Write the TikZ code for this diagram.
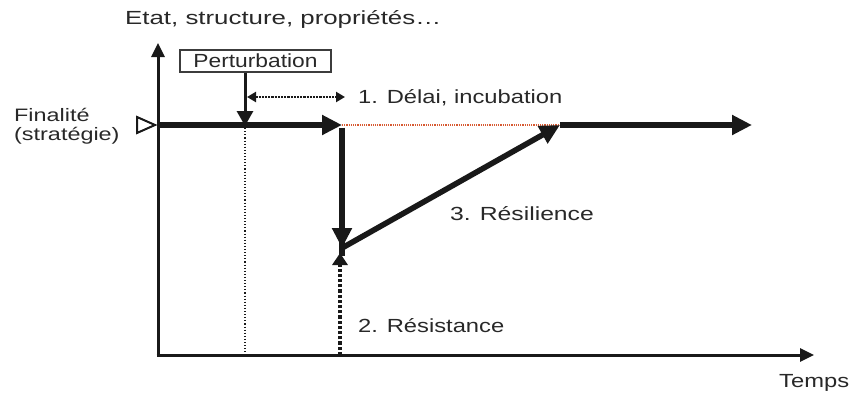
\documentclass[tikz,border=0pt]{standalone}
\usepackage{fontspec}
\setmainfont{Liberation Sans}
\usetikzlibrary{arrows.meta}
\newcommand\widetxt[2][1.25]{\scalebox{#1}[1]{#2}}
\definecolor{ink}{RGB}{25,25,25}
\definecolor{txt}{RGB}{40,40,40}
\begin{document}
\begin{tikzpicture}[x=1pt,y=-1pt,
  lbl/.style={inner sep=0pt, text=txt, font=\fontsize{19}{17}\selectfont},
  axis/.style={draw=ink, line width=3pt, -{Triangle[length=14pt,width=13pt]}},
  bigarrow/.style={draw=ink, line width=5.6pt, -{Triangle[length=20pt,width=19pt]}},
  plainthick/.style={draw=ink, line width=6pt},
  thindot/.style={draw=ink, line width=1.1pt, dotted},
  reddot/.style={draw={rgb,255:red,215;green,90;blue,50}, line width=1.2pt, densely dotted},
  dotarrow/.style={draw=ink, line width=2.2pt, densely dotted, {Triangle[length=9pt,width=10pt]}-{Triangle[length=9pt,width=10pt]}},
  resarrow/.style={draw=ink, line width=3.2pt, dotted, -{Triangle[length=12pt,width=15pt]}},
  pertarrow/.style={draw=ink, line width=3pt, -{Triangle[length=15pt,width=16pt]}},
  boxstyle/.style={draw=ink!85, line width=1.2pt, inner sep=0pt, minimum width=151pt, minimum height=22pt, text=txt, font=\fontsize{19}{17}\selectfont}
]
\useasboundingbox (0,0) rectangle (858,397);

% coordinates
\coordinate (O) at (158,355);
\coordinate (Ytop) at (158,43);
\coordinate (Xend) at (814,355);
\coordinate (F0) at (158,125);
\coordinate (D) at (342,125);
\coordinate (Dlow) at (342,248);
\coordinate (R) at (560,125);
\coordinate (E) at (752,125);
\coordinate (P) at (245,125);
\coordinate (Pbot) at (245,355);
\coordinate (Rs0) at (340,355);
\coordinate (Rs1) at (340,253);
\coordinate (L0) at (247,97);
\coordinate (L1) at (345,97);

% axes
\draw[axis] (O) -- (Ytop);
\draw[axis] ([xshift=-1.5pt]O) -- (Xend);

% texts
\node[lbl, anchor=west] (etat) at (125,19) {\widetxt[1.36]{Etat, structure, propriétés…}};
\node[lbl, anchor=west, align=left, font=\fontsize{18}{19.5}\selectfont] (fin) at (14,126) {\widetxt[1.3]{Finalité}\\\widetxt[1.3]{(stratégie)}};
\node[lbl, anchor=west] (delai) at (358,98) {\widetxt{1. Délai, incubation}};
\node[lbl] (resil) at (522,214) {\widetxt[1.3]{3. Résilience}};
\node[lbl, anchor=west] (resist) at (358,326) {\widetxt{2. Résistance}};
\node[lbl, anchor=west] (temps) at (779,383) {\widetxt{Temps}};

% perturbation
\node[boxstyle] (pert) at (255.5,61) {\widetxt[1.2]{Perturbation}};
\draw[pertarrow] (pert.south -| P) -- ([yshift=-1pt]P);

% open triangle
\draw[draw=ink, line width=2pt, line join=miter] (137,117) -- (155,125) -- (137,133) -- cycle;

% dotted vertical at perturbation
\draw[thindot] (P) -- (Pbot);

% delay arrow
\draw[dotarrow] (L0) -- (L1);

% red dotted baseline
\draw[reddot] (D) -- (R);

% main trajectory
\draw[bigarrow] (F0) -- (D);
\draw[plainthick] ([yshift=-2.8pt]D) -- ([yshift=-8pt]Dlow);
\draw[bigarrow] ([yshift=-2.8pt]D) -- (Dlow);
\draw[bigarrow] (Dlow) -- (R);
\draw[bigarrow] (R) -- (E);

% resistance arrow
\draw[resarrow] (Rs0) -- (Rs1);
\end{tikzpicture}
\end{document}
